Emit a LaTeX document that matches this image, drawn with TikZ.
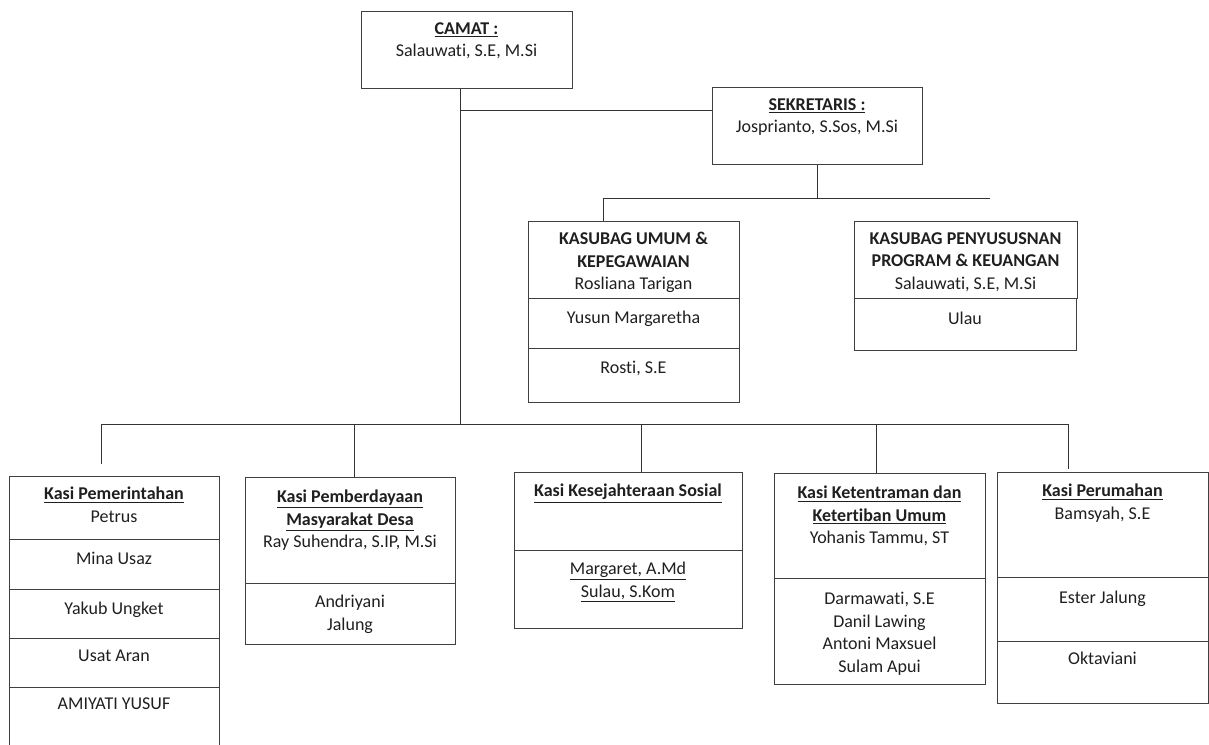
\documentclass[tikz,border=0pt]{standalone}
\usepackage{fontspec}
\setmainfont{Carlito}[Ligatures=NoCommon]

\tikzset{
  cell/.style 2 args={draw=black!75, line width=0.95pt, anchor=north west, inner sep=0pt,
    minimum width=#1*0.75pt, minimum height=#2*0.75pt},
  txt/.style={anchor=north, inner sep=0pt, align=center, text=black!88},
  link/.style={draw=black!80, line width=0.6pt},
}
\newcommand{\hd}[1]{\textbf{\underline{#1}}}

\begin{document}
\begin{tikzpicture}[x=0.75pt, y=-0.75pt, every node/.style={font=\fontsize{13.5}{16.9}\selectfont}]

    \useasboundingbox (0,0) rectangle (1209,744);
    \clip (0,0) rectangle (1209,744);

    % Camat and Sekretaris
    \node[cell={211}{77}] (camat) at (361,11) {};
    \node[txt] (camatt) at (466.5,22) {\hd{CAMAT :}\\Salauwati, S.E, M.Si};
    \node[cell={210}{77}] (sekre) at (712,87) {};
    \node[txt] (sekret) at (817,98) {\hd{SEKRETARIS :}\\Josprianto, S.Sos, M.Si};

    % Kasubag Umum & Kepegawaian
    \node[cell={211}{77}] (umum1) at (528,221) {};
    \node[cell={211}{50}] (umum2) at (528,298) {};
    \node[cell={211}{54}] (umum3) at (528,348) {};
    \node[txt] (umum1t) at (633.5,232) {\textbf{KASUBAG UMUM \&}\\\textbf{KEPEGAWAIAN}\\Rosliana Tarigan};
    \node[txt] (umum2t) at (633.5,311) {Yusun Margaretha};
    \node[txt] (umum3t) at (633.5,361) {Rosti, S.E};

    % Kasubag Program & Keuangan
    \node[cell={223}{77}] (prog1) at (854,221) {};
    \node[cell={222}{52}] (prog2) at (854,298) {};
    \node[txt] (prog1t) at (965.5,232) {\textbf{KASUBAG PENYUSUSNAN}\\\textbf{PROGRAM \& KEUANGAN}\\Salauwati, S.E, M.Si};
    \node[txt] (prog2t) at (965,312) {Ulau};

    % Kasi Pemerintahan
    \node[cell={210}{63}] (pem1) at (9,476) {};
    \node[cell={210}{50}] (pem2) at (9,539) {};
    \node[cell={210}{49}] (pem3) at (9,589) {};
    \node[cell={210}{49}] (pem4) at (9,638) {};
    \node[cell={210}{70}] (pem5) at (9,687) {};
    \node[txt] (pem1t) at (114,487) {\hd{Kasi Pemerintahan}\\Petrus};
    \node[txt] (pem2t) at (114,552) {Mina Usaz};
    \node[txt] (pem3t) at (114,602) {Yakub Ungket};
    \node[txt] (pem4t) at (114,650) {Usat Aran};
    \node[txt] (pem5t) at (114,698) {AMIYATI YUSUF};

    % Kasi Pemberdayaan Masyarakat Desa
    \node[cell={210}{106}] (pmd1) at (245,477) {};
    \node[cell={210}{61}] (pmd2) at (245,583) {};
    \node[txt] (pmd1t) at (350,490) {\hd{Kasi Pemberdayaan}\\\hd{Masyarakat Desa}\\Ray Suhendra, S.IP, M.Si};
    \node[txt] (pmd2t) at (350,595) {Andriyani\\Jalung};

    % Kasi Kesejahteraan Sosial
    \node[cell={228}{78}] (kes1) at (514,472) {};
    \node[cell={228}{78}] (kes2) at (514,550) {};
    \node[txt] (kes1t) at (628,484) {\hd{Kasi Kesejahteraan Sosial}};
    \node[txt] (kes2t) at (628,562) {\underline{Margaret, A.Md}\\\underline{Sulau, S.Kom}};

    % Kasi Ketentraman dan Ketertiban Umum
    \node[cell={211}{105}] (tib1) at (774,473) {};
    \node[cell={211}{106}] (tib2) at (774,578) {};
    \node[txt] (tib1t) at (879.5,486) {\hd{Kasi Ketentraman dan}\\\hd{Ketertiban Umum}\\Yohanis Tammu, ST};
    \node[txt] (tib2t) at (879.5,592) {Darmawati, S.E\\Danil Lawing\\Antoni Maxsuel\\Sulam Apui};

    % Kasi Perumahan
    \node[cell={211}{105}] (rum1) at (997,472) {};
    \node[cell={211}{64}] (rum2) at (997,577) {};
    \node[cell={211}{62}] (rum3) at (997,641) {};
    \node[txt] (rum1t) at (1102.5,484) {\hd{Kasi Perumahan}\\Bamsyah, S.E};
    \node[txt] (rum2t) at (1102.5,591) {Ester Jalung};
    \node[txt] (rum3t) at (1102.5,652) {Oktaviani};

    % Upper lines
    \coordinate (sj) at (460,110);
    \coordinate (bl) at (603,198);
    \coordinate (br) at (990,198);
    \draw[link] (sj) -- (sekre.west |- sj);
    \draw[link] (sekre.south) -- (sekre.south |- bl);
    \draw[link] (bl) -- (br);
    \draw[link] (bl) -- (umum1.north -| bl);

    % Lower bus
    \coordinate (trunk) at (460,424);
    \coordinate (d1) at (101,424);
    \coordinate (d2) at (354,424);
    \coordinate (d3) at (641,424);
    \coordinate (d4) at (876,424);
    \coordinate (d5) at (1068,424);
    \draw[link] (camat.south -| trunk) -- (trunk);
    \draw[link] (d1) -- (d5);
    \draw[link, shorten >=9pt] (d1) -- (pem1.north -| d1);
    \draw[link] (d2) -- (pmd1.north -| d2);
    \draw[link] (d3) -- (kes1.north -| d3);
    \draw[link] (d4) -- (tib1.north -| d4);
    \draw[link, shorten >=2pt] (d5) -- (rum1.north -| d5);

\end{tikzpicture}
\end{document}
